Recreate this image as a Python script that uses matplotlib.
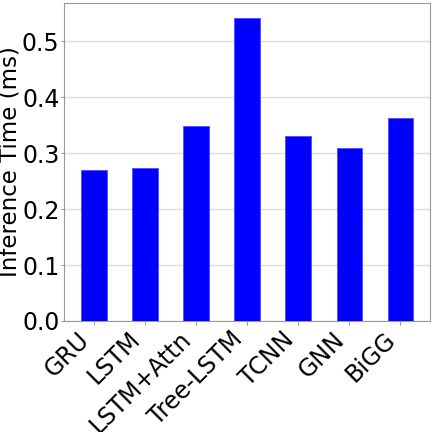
import matplotlib
matplotlib.use("Agg")
import matplotlib.pyplot as plt

models = ["GRU", "LSTM", "LSTM+Attn", "Tree-LSTM", "TCNN", "GNN", "BiGG"]
times = [0.270, 0.274, 0.349, 0.541, 0.330, 0.309, 0.362]

fig = plt.figure(figsize=(4.32, 4.32), dpi=100)
ax = fig.add_axes([0.149, 0.257, 0.846, 0.737])
x = list(range(len(models)))
ax.bar(x, times, width=0.5, color="#0000ff", edgecolor="#4d4dff", linewidth=0.6, zorder=3)
ax.set_ylim(0, 0.569)
ax.set_yticks([0.0, 0.1, 0.2, 0.3, 0.4, 0.5])
ax.set_yticklabels(["0.0", "0.1", "0.2", "0.3", "0.4", "0.5"])
ax.set_xticks(x)
ax.set_xticklabels(models, rotation=45, ha="right")
ax.tick_params(axis="both", colors="#999999", labelcolor="black")
ax.tick_params(axis="y", length=2, pad=1.5, labelsize=17)
ax.tick_params(axis="x", length=3, pad=1.5, labelsize=17)
ax.yaxis.grid(True, color="#dddddd", linewidth=1, zorder=0)
ax.set_axisbelow(True)
for s in ax.spines.values():
    s.set_color("#999999")
ax.set_ylabel("Inference Time (ms)", fontsize=16.5)
ax.yaxis.set_label_coords(-0.117, 0.5)
fig.savefig("out.png", dpi=100)
